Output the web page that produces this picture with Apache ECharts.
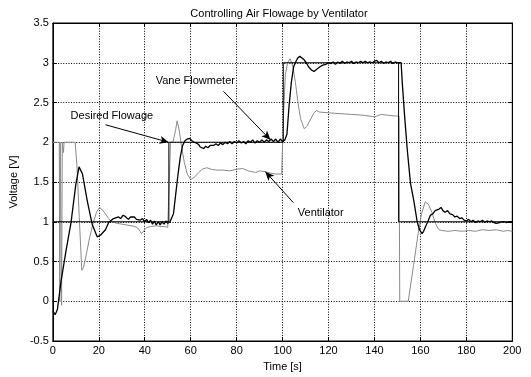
<!DOCTYPE html>
<html>
<head>
<meta charset="utf-8">
<script src="https://cdn.jsdelivr.net/npm/echarts@6/dist/echarts.min.js"></script>
<style>
  html, body { margin: 0; padding: 0; background: #fff; }
  #chart { width: 531px; height: 377px; }
</style>
</head>
<body>
<div id="chart"></div>
<script>
// values, [time s, voltage V]
const desiredPoints = [[0,1],[50.5,1],[50.5,2],[100.3,2],[100.3,3],[150.5,3],[150.5,1],[200,1]];

const vanePoints = [
	[0,-0.12],[1,-0.17],[2,-0.1],[3.6,0.26],[5.7,0.63],[7.9,0.99],[10,1.47],[11.4,1.69],[12.9,1.6],[15,1.26],
	[17.1,0.97],[19.3,0.81],[20.7,0.83],[22.9,0.9],[24.3,0.99],[25,1.01],[26.4,1.04],[28.6,1.06],[29.5,1.04],[30.5,1.08],
	[31.4,1.07],[32.2,1.09],[32.9,1.03],[33.8,1.06],[34.6,1.04],[35.5,1.06],[36.4,1.03],[37.1,1.05],[38,1.02],[39,1.04],
	[40,1.0],[40.8,1.03],[41.7,0.99],[42.5,1.02],[43.4,0.97],[44.2,1.01],[45,0.96],[45.9,1.0],[46.7,0.96],[47.5,1.0],
	[48.4,0.97],[49.2,1.01],[50,0.98],[51,1.0],[51.8,1.0],[52.5,1.1],[53.5,1.35],[54.5,1.6],[55.5,1.82],[56.5,1.96],
	[57.5,2.02],[58.5,2.04],[59.5,2.05],[60.5,2.02],[61.5,2.0],[62.5,1.99],[63.5,1.97],[64.2,1.94],[65,1.96],[65.7,1.92],
	[66.5,1.95],[67.5,1.93],[68.5,1.96],[70,1.96],[71,1.98],[72,1.96],[73,1.99],[74,1.97],[75,2.0],[76,1.98],
	[77,2.01],[78,1.98],[79,2.01],[80,1.99],[81,2.02],[82,1.99],[83,2.01],[84,1.98],[85,2.02],[86,2.0],
	[87,2.03],[88,1.99],[89,2.02],[90,2.0],[91,2.03],[92,2.0],[93,2.03],[94,2.01],[95,2.04],[96,2.01],
	[97,2.04],[98,2.0],[99,2.04],[100,2.01],[101,2.03],[101.9,2.1],[102.8,2.45],[103.8,2.75],[104.8,2.95],[105.7,3.01],
	[106.6,3.06],[107.5,3.08],[108.3,3.08],[109.3,3.04],[110.3,3.0],[111.3,2.95],[112.5,2.91],[113.7,2.89],[115,2.92],[116.3,2.95],
	[117.5,2.97],[118.8,2.98],[120,3.0],[121,2.99],[122,3.01],[123,2.98],[124,3.01],[125,2.99],[126,3.02],[127,2.99],
	[128,3.01],[129,3.0],[130,3.02],[131,2.99],[132,3.01],[133,3.0],[134,3.02],[135,3.0],[136,3.02],[137,3.0],
	[138,3.01],[139,3.0],[140,3.02],[141,3.03],[142,3.0],[143,3.02],[144,2.99],[145,3.01],[146,3.0],[147,3.02],
	[148,2.99],[149,3.01],[150,3.0],[151.6,3.0],[152.1,2.75],[153.2,2.3],[154.3,1.9],[155.7,1.48],[157.1,1.27],[158.6,1.0],
	[159.6,0.9],[160.7,0.85],[161.4,0.88],[162.1,0.93],[163.2,1.0],[164.3,1.08],[165.4,1.1],[166.4,1.14],[167.2,1.12],[168.1,1.16],
	[169,1.18],[169.8,1.14],[170.7,1.12],[171.8,1.14],[172.9,1.1],[174,1.09],[175,1.06],[176,1.07],[177.1,1.04],[178,1.05],
	[179,1.02],[180,1.01],[181,1.03],[182,1.0],[182.9,1.02],[184,0.99],[185,1.01],[186,1.0],[187,1.02],[188,0.99],
	[189,1.01],[190,1.0],[191,1.01],[192,0.99],[193,0.98],[193.6,0.96],[194.5,0.99],[195.5,1.0],[196.4,1.0],[197.5,0.99],
	[198.5,1.0],[200,1.0]
];

const ventilatorPoints = [
	[0,2],[2.8,2],[3.0,0.0],[3.2,2],[3.6,2],[3.8,-0.05],[4.1,2],[4.4,2],[4.6,1.87],[4.9,2],
	[9.7,2],[10.5,1.7],[11.5,1.05],[12.6,0.39],[13.3,0.42],[14.5,0.58],[16,0.8],[17.5,0.98],[19,1.12],[20.3,1.18],
	[21.5,1.15],[22.9,1.1],[24.3,1.04],[25.7,1.0],[28,0.98],[30,0.97],[32,0.96],[34,0.95],[35.7,0.94],[37,0.92],
	[38,0.88],[38.6,0.85],[39.3,0.86],[40,0.9],[41,0.93],[42.9,0.94],[45,0.95],[47,0.94],[48.6,0.94],[50,0.93],
	[50.6,0.93],[50.8,1.6],[51.2,2.0],[52.3,2.0],[53.4,2.15],[54.1,2.27],[55,2.15],[56,1.95],[57.2,1.75],[58.5,1.6],
	[60,1.53],[60.7,1.52],[62,1.57],[63.5,1.62],[65,1.66],[67,1.68],[69,1.66],[71,1.65],[74,1.65],[77,1.64],
	[80,1.66],[82.6,1.67],[85,1.64],[88.3,1.62],[90,1.64],[92.5,1.63],[95,1.61],[97,1.6],[99.6,1.6],[100.3,1.6],
	[100.5,2.4],[101.2,2.85],[102.2,3.0],[103.3,3.05],[104.5,2.95],[105.6,2.75],[106.7,2.5],[107.8,2.3],[109.4,2.17],[110.6,2.2],
	[112,2.28],[113.5,2.36],[114.7,2.4],[116,2.38],[120,2.37],[125,2.36],[130,2.35],[135,2.34],[140,2.32],[143,2.35],
	[146,2.34],[149,2.33],[150.7,2.33],[151.0,0.0],[154.7,0.0],[157,0.45],[159,0.85],[160.5,1.1],[162.1,1.25],[163.5,1.22],
	[165,1.12],[166.5,0.98],[168,0.9],[169.3,0.89],[172,0.88],[175,0.89],[178,0.88],[181,0.89],[184,0.88],[187,0.9],
	[190,0.89],[193,0.9],[196,0.88],[198,0.89],[200,0.88]
];

// annotation text [x, y, label] and arrows [from, to]
const noteLabels = [[25.7, 2.33, 'Desired Flowage'], [62.0, 2.77, 'Vane Flowmeter'], [116.6, 1.11, 'Ventilator']];
const noteArrows = [[[22.9, 2.22], [50.4, 2.0]], [[74.3, 2.64], [94.7, 2.03]], [[104.7, 1.24], [92.5, 1.63]]];

const font = 'Arial, "Liberation Sans", sans-serif';

let myChart = echarts.init(document.getElementById('chart'));

let gridLine = { show: true, lineStyle: { color: '#000', width: 1, type: [1, 1.6] } };
let axLine = { show: true, onZero: false, lineStyle: { color: '#000', width: 1 } };
let tick = { show: true, inside: true, length: 4, lineStyle: { color: '#000' } };
let lbl = { color: '#000', fontSize: 11, fontFamily: font };

let option = {
	animation: false,
	backgroundColor: '#fff',
	title: {
		text: 'Controlling Air Flowage by Ventilator',
		left: 274, top: 3, textAlign: 'center',
		textStyle: { fontSize: 11, fontWeight: 'normal', color: '#000', fontFamily: font }
	},
	grid: { left: 52.3, right: 18.7, top: 23, bottom: 36, show: true, borderColor: '#000', borderWidth: 1 },
	xAxis: [{
		type: 'value', min: 0, max: 200, interval: 20,
		name: 'Time [s]', nameLocation: 'middle', nameGap: 20,
		nameTextStyle: lbl,
		axisLine: axLine, axisTick: tick,
		axisLabel: Object.assign({ margin: 4 }, lbl),
		splitLine: gridLine
	}, {
		type: 'value', min: 0, max: 200, interval: 20, position: 'top',
		axisLine: axLine, axisTick: tick,
		axisLabel: { show: false }, splitLine: { show: false }
	}],
	yAxis: [{
		type: 'value', min: -0.5, max: 3.5, interval: 0.5,
		name: 'Voltage [V]', nameLocation: 'middle', nameGap: 32,
		nameTextStyle: lbl,
		axisLine: axLine, axisTick: tick,
		axisLabel: Object.assign({ margin: 4 }, lbl),
		splitLine: gridLine
	}, {
		type: 'value', min: -0.5, max: 3.5, interval: 0.5, position: 'right',
		axisLine: axLine, axisTick: tick,
		axisLabel: { show: false }, splitLine: { show: false }
	}],
	series: [
		{
			name: 'Ventilator', type: 'line', data: ventilatorPoints, showSymbol: false,
			lineStyle: { color: '#8a8a8a', width: 1 }, z: 2
		},
		{
			name: 'Desired Flowage', type: 'line', data: desiredPoints, showSymbol: false,
			lineStyle: { color: '#000', width: 1 }, z: 3
		},
		{
			name: 'Vane Flowmeter', type: 'line', data: vanePoints, showSymbol: false,
			lineStyle: { color: '#000', width: 1.3 }, z: 4
		},
		{
			name: 'notes', type: 'line', data: [], z: 5,
			markLine: {
				silent: true, symbol: ['none', 'arrow'], symbolSize: [6, 9],
				lineStyle: { color: '#000', width: 1, type: 'solid' },
				label: { show: false },
				data: noteArrows.map(a => [{ coord: a[0] }, { coord: a[1] }])
			},
			markPoint: {
				silent: true, symbol: 'circle', symbolSize: 1,
				itemStyle: { color: 'transparent' },
				label: { show: true, position: 'inside', formatter: '{b}', color: '#000', fontSize: 11, fontFamily: font },
				data: noteLabels.map(n => ({ coord: [n[0], n[1]], name: n[2] }))
			}
		}
	]
};

myChart.setOption(option);
</script>
</body>
</html>
